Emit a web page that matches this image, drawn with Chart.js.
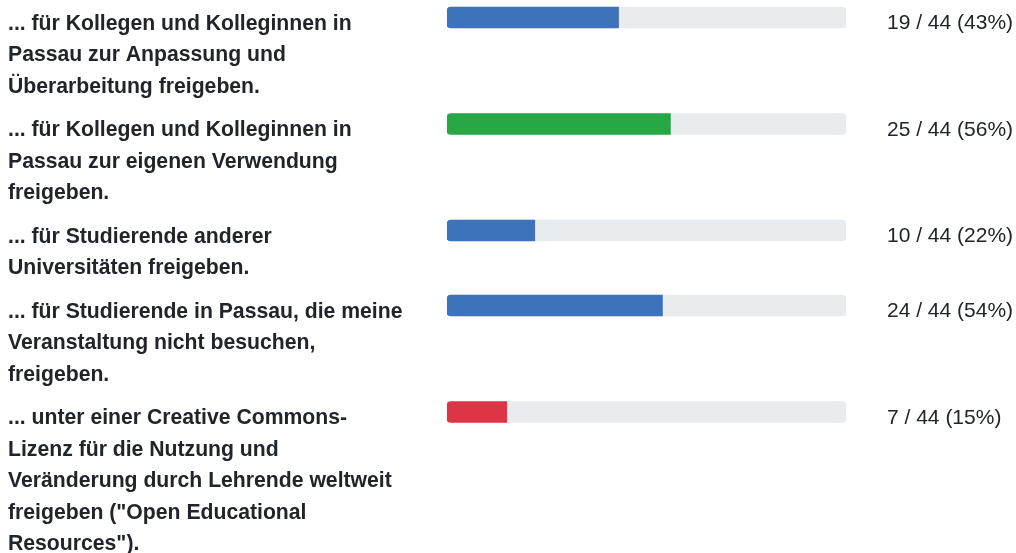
<!DOCTYPE html>
<html>
<head>
<meta charset="utf-8">
<script src="https://cdn.jsdelivr.net/npm/chart.js@4.4.1/dist/chart.umd.min.js"></script>
<style>
  html, body { margin: 0; padding: 0; background: #ffffff; }
  #wrap { width: 1016px; height: 553px; position: relative; }
</style>
</head>
<body>
<div id="wrap"><canvas id="c" width="1016" height="553"></canvas></div>
<script>
// ---- data ----
const categories = [
  ["... für Kollegen und Kolleginnen in", "Passau zur Anpassung und", "Überarbeitung freigeben."],
  ["... für Kollegen und Kolleginnen in", "Passau zur eigenen Verwendung", "freigeben."],
  ["... für Studierende anderer", "Universitäten freigeben."],
  ["... für Studierende in Passau, die meine", "Veranstaltung nicht besuchen,", "freigeben."],
  ["... unter einer Creative Commons-", "Lizenz für die Nutzung und", "Veränderung durch Lehrende weltweit", "freigeben (\"Open Educational", "Resources\")."]
];
const counts = [19, 25, 10, 24, 7];
const total = 44;
const percents = [43, 56, 22, 54, 15];
const barColors = ["#3c73ba", "#28a745", "#3c73ba", "#3c73ba", "#dc3545"];

// ---- layout helpers (row positions derived from label line counts) ----
const LINE = 31.5, GAP = 12, FIRST = 7, BAR = 21;
const rowTops = [];
let acc = FIRST;
categories.forEach(lines => { rowTops.push(acc); acc += lines.length * LINE + GAP; });
const rowCenters = rowTops.map(t => t + BAR / 2);

const labelPlugin = {
  id: 'labels',
  afterDatasetsDraw(chart) {
    const ctx = chart.ctx;
    const y = chart.scales.y;
    const x = chart.scales.x;
    ctx.save();
    ctx.textBaseline = 'alphabetic';
    ctx.fillStyle = '#212529';
    categories.forEach((lines, i) => {
      const c = y.getPixelForValue(rowCenters[i]);
      ctx.font = 'bold 21.2px "Liberation Sans", Arial, sans-serif';
      ctx.textAlign = 'left';
      lines.forEach((ln, j) => {
        ctx.fillText(ln, 8, c + 12 + j * LINE);
      });
      ctx.font = '21px "Liberation Sans", Arial, sans-serif';
      ctx.fillText(counts[i] + ' / ' + total + ' (' + percents[i] + '%)', x.right + 41, c + 11.5);
    });
    ctx.restore();
  }
};

new Chart(document.getElementById('c'), {
  type: 'bar',
  data: {
    datasets: [
      {
        label: 'Antworten',
        data: percents.map((v, i) => ({ x: v, y: rowCenters[i] })),
        backgroundColor: barColors,
        borderWidth: 0,
        borderSkipped: false,
        borderRadius: { topLeft: 4, bottomLeft: 4, topRight: 0, bottomRight: 0 },
        barThickness: BAR,
        grouped: false,
        order: 0
      },
      {
        label: 'Gesamt',
        data: percents.map((v, i) => ({ x: 100, y: rowCenters[i] })),
        backgroundColor: '#e9ecef',
        borderWidth: 0,
        borderSkipped: false,
        borderRadius: 4,
        barThickness: BAR,
        grouped: false,
        order: 1
      }
    ]
  },
  options: {
    indexAxis: 'y',
    responsive: false,
    animation: false,
    layout: { padding: { left: 447, right: 170, top: 0, bottom: 0 } },
    scales: {
      x: { type: 'linear', min: 0, max: 100, display: false, offset: false },
      y: { type: 'linear', min: 0, max: 553, reverse: true, display: false, offset: false }
    },
    plugins: { legend: { display: false }, tooltip: { enabled: false } }
  },
  plugins: [labelPlugin]
});
</script>
</body>
</html>
